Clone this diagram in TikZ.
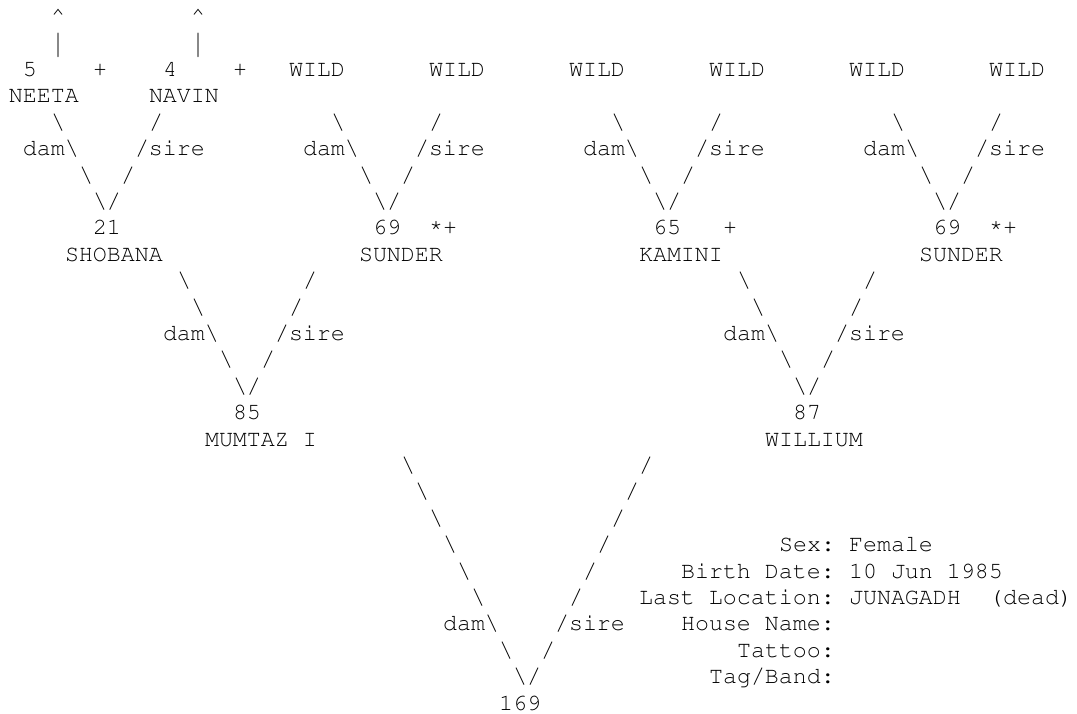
\documentclass[tikz,border=0pt]{standalone}
\usepackage[T1]{fontenc}
\usepackage{courier}
\usepackage{graphicx}
\tikzset{tok/.style={anchor=base west, inner sep=0pt, outer sep=0pt,
  font=\ttfamily\fontsize{23.33}{26.4}\selectfont\frenchspacing}}
% #1 name, #2 column, #3 row, #4 text
\newcommand{\tok}[4]{\node[tok] (#1) at ({9+14*#2},{-23.6-26.4*#3}) {#4};}
\newcommand{\BS}{\textbackslash}
\newcommand{\AST}{\raisebox{3.5pt}{*}}
\newcommand{\VBAR}{\raisebox{-3pt}{\scalebox{1}[1.45]{\textbar}}}
\begin{document}
\begin{tikzpicture}[x=1pt,y=1pt]
\fill[white] (0,0) rectangle (1077,-713);
\useasboundingbox (0,0) rectangle (1077,-713);
% row 0-1
\tok{r0c3}{3}{0}{\textasciicircum}
\tok{r0c13}{13}{0}{\textasciicircum}
\tok{r1c3}{3}{1}{\VBAR}
\tok{r1c13}{13}{1}{\VBAR}
% row 2
\tok{r2c1}{1}{2}{5}
\tok{r2c6}{6}{2}{+}
\tok{r2c11}{11}{2}{4}
\tok{r2c16}{16}{2}{+}
\tok{r2c20}{20}{2}{WILD}
\tok{r2c30}{30}{2}{WILD}
\tok{r2c40}{40}{2}{WILD}
\tok{r2c50}{50}{2}{WILD}
\tok{r2c60}{60}{2}{WILD}
\tok{r2c70}{70}{2}{WILD}
% row 3
\tok{r3c0}{0}{3}{NEETA}
\tok{r3c10}{10}{3}{NAVIN}
% row 4
\tok{r4c3}{3}{4}{\BS}   \tok{r4c10}{10}{4}{/}
\tok{r4c23}{23}{4}{\BS} \tok{r4c30}{30}{4}{/}
\tok{r4c43}{43}{4}{\BS} \tok{r4c50}{50}{4}{/}
\tok{r4c63}{63}{4}{\BS} \tok{r4c70}{70}{4}{/}
% row 5
\tok{r5c1}{1}{5}{dam\BS}   \tok{r5c9}{9}{5}{/sire}
\tok{r5c21}{21}{5}{dam\BS} \tok{r5c29}{29}{5}{/sire}
\tok{r5c41}{41}{5}{dam\BS} \tok{r5c49}{49}{5}{/sire}
\tok{r5c61}{61}{5}{dam\BS} \tok{r5c69}{69}{5}{/sire}
% row 6
\tok{r6c5}{5}{6}{\BS}   \tok{r6c8}{8}{6}{/}
\tok{r6c25}{25}{6}{\BS} \tok{r6c28}{28}{6}{/}
\tok{r6c45}{45}{6}{\BS} \tok{r6c48}{48}{6}{/}
\tok{r6c65}{65}{6}{\BS} \tok{r6c68}{68}{6}{/}
% row 7
\tok{r7c6}{6}{7}{\BS/}
\tok{r7c26}{26}{7}{\BS/}
\tok{r7c46}{46}{7}{\BS/}
\tok{r7c66}{66}{7}{\BS/}
% row 8
\tok{r8c6}{6}{8}{21}
\tok{r8c26}{26}{8}{69} \tok{r8c30}{30}{8}{\AST+}
\tok{r8c46}{46}{8}{65} \tok{r8c51}{51}{8}{+}
\tok{r8c66}{66}{8}{69} \tok{r8c70}{70}{8}{\AST+}
% row 9
\tok{r9c4}{4}{9}{SHOBANA}
\tok{r9c25}{25}{9}{SUNDER}
\tok{r9c45}{45}{9}{KAMINI}
\tok{r9c65}{65}{9}{SUNDER}
% rows 10-14
\tok{r10c12}{12}{10}{\BS} \tok{r10c21}{21}{10}{/}
\tok{r10c52}{52}{10}{\BS} \tok{r10c61}{61}{10}{/}
\tok{r11c13}{13}{11}{\BS} \tok{r11c20}{20}{11}{/}
\tok{r11c53}{53}{11}{\BS} \tok{r11c60}{60}{11}{/}
\tok{r12c11}{11}{12}{dam\BS} \tok{r12c19}{19}{12}{/sire}
\tok{r12c51}{51}{12}{dam\BS} \tok{r12c59}{59}{12}{/sire}
\tok{r13c15}{15}{13}{\BS} \tok{r13c18}{18}{13}{/}
\tok{r13c55}{55}{13}{\BS} \tok{r13c58}{58}{13}{/}
\tok{r14c16}{16}{14}{\BS/}
\tok{r14c56}{56}{14}{\BS/}
% rows 15-16
\tok{r15c16}{16}{15}{85}
\tok{r15c56}{56}{15}{87}
\tok{r16c14}{14}{16}{MUMTAZ I}
\tok{r16c54}{54}{16}{WILLIUM}
% rows 17-25
\tok{r17c28}{28}{17}{\BS} \tok{r17c45}{45}{17}{/}
\tok{r18c29}{29}{18}{\BS} \tok{r18c44}{44}{18}{/}
\tok{r19c30}{30}{19}{\BS} \tok{r19c43}{43}{19}{/}
\tok{r20c31}{31}{20}{\BS} \tok{r20c42}{42}{20}{/}
\tok{r21c32}{32}{21}{\BS} \tok{r21c41}{41}{21}{/}
\tok{r22c33}{33}{22}{\BS} \tok{r22c40}{40}{22}{/}
\tok{r23c31}{31}{23}{dam\BS} \tok{r23c39}{39}{23}{/sire}
\tok{r24c35}{35}{24}{\BS} \tok{r24c38}{38}{24}{/}
\tok{r25c36}{36}{25}{\BS/}
\tok{r26c35}{35}{26}{169}
% info block
\tok{sexL}{55}{20}{Sex:}            \tok{sexV}{60}{20}{Female}
\tok{birthL}{48}{21}{Birth Date:}   \tok{birthV}{60}{21}{10 Jun 1985}
\tok{locL}{45}{22}{Last Location:}  \tok{locV}{60}{22}{JUNAGADH}
\tok{locD}{70}{22}{(dead)}
\tok{houseL}{48}{23}{House Name:}
\tok{tattooL}{52}{24}{Tattoo:}
\tok{tagL}{50}{25}{Tag/Band:}
\end{tikzpicture}
\end{document}
